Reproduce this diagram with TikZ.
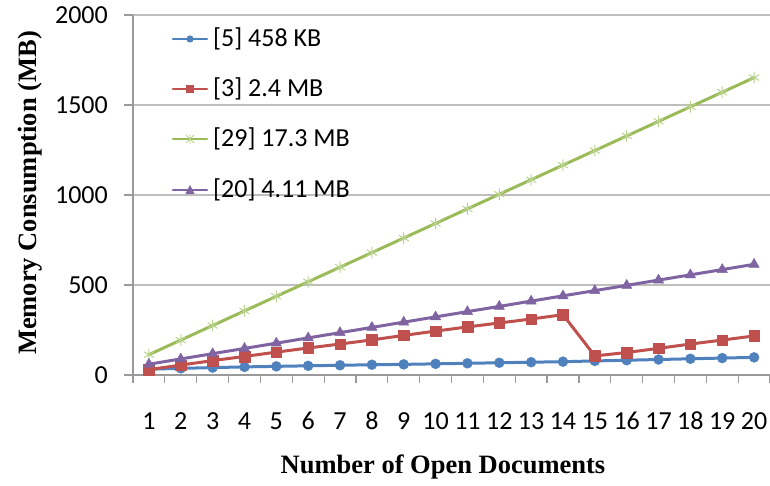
\documentclass[tikz,border=0pt]{standalone}
\usepackage{fontspec}
\setmainfont{Carlito}
\newfontfamily\titlefont{Liberation Serif}
\usetikzlibrary{plotmarks}
\definecolor{sblue}{HTML}{4F81BD}
\definecolor{sred}{HTML}{C0504D}
\definecolor{sgreen}{HTML}{9BBB59}
\definecolor{sgreenmk}{HTML}{B9D38F}
\definecolor{spurple}{HTML}{8064A2}
\definecolor{gridc}{HTML}{BEBEBE}
\definecolor{axisc}{HTML}{9A9A9A}
\tikzset{
  gridline/.style={gridc, line width=1.4pt},
  axisline/.style={axisc, line width=1.2pt},
  lbl/.style={font=\fontsize{26}{30}\selectfont, inner sep=0pt, text=black},
  ttl/.style={font=\titlefont\bfseries\fontsize{26.5}{30}\selectfont, inner sep=0pt, text=black},
  series/.style={line width=3pt, line join=round, line cap=round},
  blueser/.style={series, sblue, mark=*, mark size=5pt, mark options={line width=0.4pt}},
  redser/.style={series, sred, mark=square*, mark size=5.3pt, mark options={line width=0.4pt}},
  greenser/.style={series, sgreen, mark=asterisk, mark size=5.5pt, mark options={sgreenmk, line width=1pt}},
  purpleser/.style={series, spurple, mark=triangle*, mark size=6pt, mark options={line width=0.4pt}},
}
\begin{document}
\begin{tikzpicture}[x=1pt,y=1pt]
\useasboundingbox (0,0) rectangle (770,486);
% gridlines
\foreach \v in {500,1000,1500,2000}{
  \draw[gridline] (133,{111+0.18*\v}) -- (770,{111+0.18*\v});
  \draw[axisline] (124,{111+0.18*\v}) -- (133,{111+0.18*\v});
}
% axes
\draw[axisline] (133,471) -- (133,103);
\draw[axisline] (124,111) -- (770,111);
\foreach \k in {1,...,20}{
  \draw[axisline] ({133+31.85*\k},111) -- ({133+31.85*\k},103);
}
% y tick labels
\foreach \v/\nm in {0/ya,500/yb,1000/yc,1500/yd,2000/ye}{
  \node[lbl, anchor=east] (\nm) at (108,{111+0.18*\v}) {\v};
}
% x tick labels
\foreach \i in {1,...,20}{
  \node[lbl] (x\i) at ({117.075+31.85*\i},65) {\i};
}
% titles
\node[ttl] (xtitle) at (443,19) {Number of Open Documents};
\node[ttl, rotate=90] (ytitle) at (30,293) {Memory Consumption (MB)};
% data
\begin{scope}[x=31.85pt,y=0.18pt,shift={(117.075pt,111pt)}]
\draw[blueser] plot coordinates {(1,32) (2,37) (3,41) (4,45) (5,48) (6,51) (7,54) (8,57) (9,59) (10,62) (11,65) (12,68) (13,71) (14,74) (15,78) (16,82) (17,86) (18,90) (19,94) (20,98)};
\draw[redser] plot coordinates {(1,30) (2,55) (3,80) (4,103) (5,127) (6,150) (7,172) (8,195) (9,220) (10,244) (11,267) (12,289) (13,311) (14,335) (15,106) (16,125) (17,148) (18,172) (19,194) (20,217)};
\draw[greenser] plot[samples at={1,...,20}] (\x,{113+81*(\x-1)});
\draw[purpleser] plot[samples at={1,...,20}] (\x,{60+29.2*(\x-1)});
\end{scope}
% legend
\draw[series, line width=2.6pt, sblue] (173,447) -- (207,447);
\path[fill=sblue] (190,447) circle (3.6);
\node[lbl, anchor=west] (l1) at (213,447) {[5] 458 KB};
\draw[series, line width=2.6pt, sred] (173,397) -- (207,397);
\path[fill=sred] (186,393) rectangle (194,401);
\node[lbl, anchor=west] (l2) at (213,397) {[3] 2.4 MB};
\draw[series, line width=2.6pt, sgreen] (173,347) -- (207,347);
\draw[sgreenmk, line width=0.9pt] (190,342) -- (190,352) (186,343) -- (194,351) (186,351) -- (194,343);
\node[lbl, anchor=west] (l3) at (213,347) {[29] 17.3 MB};
\draw[series, line width=2.6pt, spurple] (173,296) -- (207,296);
\path[fill=spurple] (185.5,292) -- (194.5,292) -- (190,301) -- cycle;
\node[lbl, anchor=west] (l4) at (213,296) {[20] 4.11 MB};
\end{tikzpicture}
\end{document}
